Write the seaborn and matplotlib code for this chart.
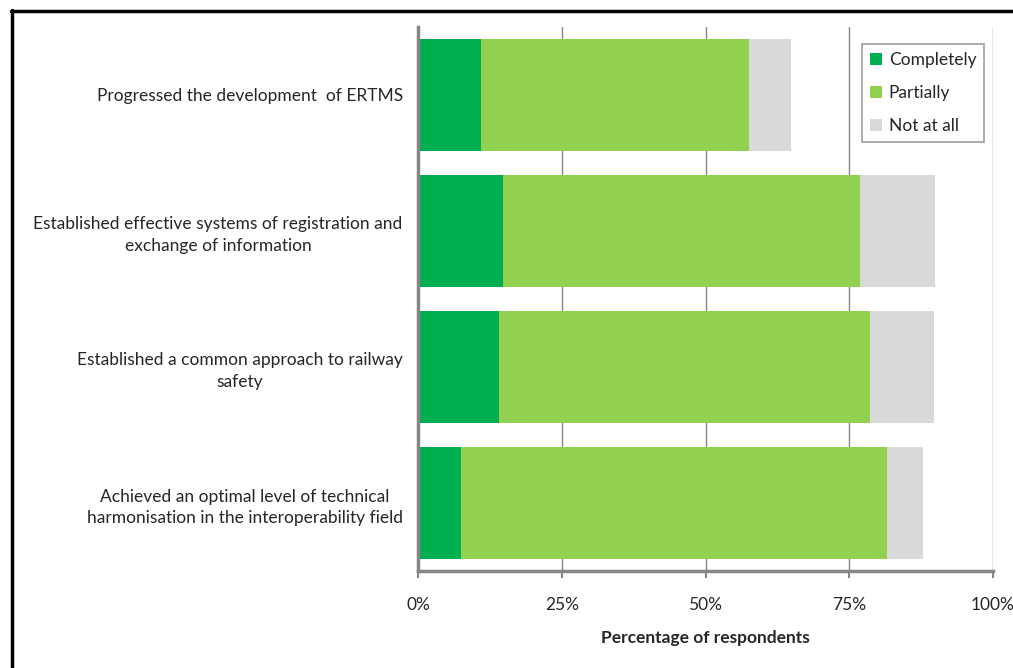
import matplotlib
matplotlib.use("Agg")
import matplotlib.pyplot as plt
from matplotlib.lines import Line2D
from matplotlib.patches import Patch
import seaborn as sns
import numpy as np

# Survey outcomes per objective (percentage of respondents)
objectives = [
    "Progressed the development  of ERTMS",
    "Established effective systems of registration and\nexchange of information",
    "Established a common approach to railway\nsafety",
    "Achieved an optimal level of technical\nharmonisation in the interoperability field",
]
completely = [11.0, 14.7, 14.1, 7.5]
partially = [46.5, 62.2, 64.5, 74.0]
not_at_all = [7.3, 13.0, 11.1, 6.4]

series_names = ["Completely", "Partially", "Not at all"]
series_colors = ["#00B050", "#92D050", "#D9D9D9"]
x_ticks = [0, 25, 50, 75, 100]
x_tick_labels = ["0%", "25%", "50%", "75%", "100%"]
x_title = "Percentage of respondents"

sns.set_theme(style="white")
plt.rcParams["font.family"] = ["Lato", "DejaVu Sans"]

fig = plt.figure(figsize=(10.13, 6.68), dpi=100)
ax = fig.add_axes([0.4126, 0.1452, 0.5677, 0.8144])

# Stacked bars: draw cumulative totals from the outermost segment inward
c1 = np.array(completely)
c2 = c1 + np.array(partially)
c3 = c2 + np.array(not_at_all)
for totals, color in zip([c3, c2, c1], series_colors[::-1]):
    sns.barplot(x=totals, y=objectives, orient="h", color=color,
                saturation=1, width=0.83, linewidth=0, ax=ax, zorder=3)

ax.set_xlim(0, 100)
ax.set_ylim(3.5, -0.5)
ax.set_xticks(x_ticks)
ax.set_xticklabels(x_tick_labels, fontsize=12.5)
ax.tick_params(axis="x", which="both", bottom=True, length=5, width=1.5,
               color="#868686", pad=14)
ax.tick_params(axis="y", left=False, pad=5, labelsize=12.5)
for lbl in ax.get_yticklabels():
    lbl.set_multialignment("center")
    lbl.set_linespacing(1.45)
ax.set_xlabel(x_title, fontsize=12.5, fontweight="bold", labelpad=12)
ax.set_ylabel("")

ax.grid(axis="x", color="#868686", linewidth=1, zorder=0)
ax.grid(axis="y", visible=False)
ax.set_axisbelow(True)
for side in ["top", "right"]:
    ax.spines[side].set_visible(False)
for side in ["left", "bottom"]:
    ax.spines[side].set_color("#868686")
    ax.spines[side].set_linewidth(2.5)
    ax.spines[side].set_zorder(4)

handles = [Patch(facecolor=c, edgecolor="none", label=n)
           for n, c in zip(series_names, series_colors)]
leg = ax.legend(handles=handles, loc="upper left", bbox_to_anchor=(0.772, 0.969),
                frameon=True, fancybox=False, fontsize=12.5,
                handlelength=0.7, handleheight=0.7, handletextpad=0.4,
                labelspacing=1.0, borderpad=0.45, borderaxespad=0)
leg.get_frame().set_edgecolor("#868686")
leg.get_frame().set_linewidth(1.2)

# Outer frame along the top and left edges of the figure
fig.add_artist(Line2D([10.5 / 1013, 1.0], [1 - 11 / 668, 1 - 11 / 668],
                      color="black", linewidth=2.5, transform=fig.transFigure))
fig.add_artist(Line2D([11.5 / 1013, 11.5 / 1013], [0.0, 1 - 10 / 668],
                      color="black", linewidth=2.5, transform=fig.transFigure))

fig.savefig("out.png", dpi=100)
